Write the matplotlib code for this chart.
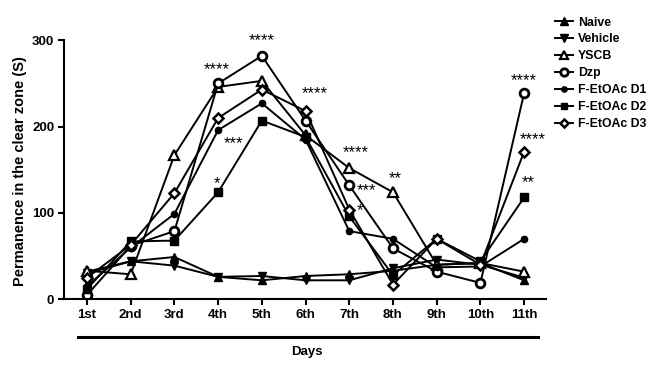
import matplotlib
matplotlib.use("Agg")
import matplotlib.pyplot as plt
from matplotlib.lines import Line2D

plt.rcParams['font.family'] = ['Liberation Sans', 'DejaVu Sans']
plt.rcParams['font.weight'] = 'bold'

days = ["1st", "2nd", "3rd", "4th", "5th", "6th", "7th", "8th", "9th", "10th", "11th"]
naive = [32, 44, 49, 26, 22, 27, 29, 33, 40, 42, 22]
vehicle = [30, 44, 39, 26, 27, 22, 22, 36, 46, 40, 25]
yscb = [33, 29, 167, 246, 253, 190, 152, 124, 40, 42, 32]
dzp = [5, 62, 79, 250, 282, 207, 132, 59, 32, 19, 239]
d1 = [15, 60, 99, 196, 227, 185, 79, 70, 37, 38, 70]
d2 = [12, 67, 68, 124, 207, 188, 96, 28, 70, 44, 118]
d3 = [25, 63, 123, 210, 243, 218, 104, 17, 70, 40, 171]

# significance labels: (day position, y value, text)
stars = [
    (3.97, 266, "****"),
    (5.0, 300, "****"),
    (4.35, 180, "***"),
    (3.97, 134, "*"),
    (6.2, 238, "****"),
    (7.15, 170, "****"),
    (7.4, 126, "***"),
    (7.25, 103, "*"),
    (8.05, 140, "**"),
    (10.98, 253, "****"),
    (11.2, 185, "****"),
    (11.1, 135, "**"),
]

fig = plt.figure(figsize=(6.69, 3.74), dpi=100)
ax = fig.add_axes([64/669, (374-299.3)/374, 482/669, 259/374])

x = list(range(1, len(days) + 1))
lw = 1.4
series = [
    ("Naive", naive, dict(marker='^', mfc='black', ms=6)),
    ("Vehicle", vehicle, dict(marker='v', mfc='black', ms=6)),
    ("YSCB", yscb, dict(marker='^', mfc='white', ms=6.5, mew=1.6)),
    ("Dzp", dzp, dict(marker='o', mfc='white', ms=6.3, mew=2.0)),
    ("F-EtOAc D1", d1, dict(marker='o', mfc='black', ms=4.5)),
    ("F-EtOAc D2", d2, dict(marker='s', mfc='black', ms=5.5)),
    ("F-EtOAc D3", d3, dict(marker='D', mfc='white', ms=5, mew=1.8)),
]
handles = []
for name, vals, kw in series:
    h, = ax.plot(x, vals, color='black', lw=lw, mec='black', label=name, **kw)
    handles.append(h)

for sx, sy, st in stars:
    ax.text(sx, sy, st, ha='center', va='center', fontsize=12, fontweight='normal')

ax.set_xlim(0.474, 11.5)
ax.set_ylim(0, 300)
ax.set_xticks(x)
ax.set_xticklabels(days)
ax.set_yticks([0, 100, 200, 300])
ax.spines['top'].set_visible(False)
ax.spines['right'].set_visible(False)
for s in ['left', 'bottom']:
    ax.spines[s].set_linewidth(1.5)
ax.tick_params(axis='both', direction='out', length=4, width=1.5, labelsize=9.5, pad=3)
for lab in ax.get_xticklabels() + ax.get_yticklabels():
    lab.set_fontweight('bold')

fig.text(20.5/669, (374-171)/374, "Permanence in the clear zone (S)", rotation=90,
         ha='center', va='center', fontsize=10.5, fontweight='bold')

fig.add_artist(Line2D([78/669, 538/669], [(374-337)/374, (374-337)/374], color='black', lw=2.2))
fig.text(307/669, (374-352)/374, "Days", ha='center', va='center', fontsize=9.5, fontweight='bold')

leg = fig.legend(handles=handles, loc='upper left', bbox_to_anchor=(555/669, (374-16.5)/374),
                 frameon=False, handlelength=1.45, handletextpad=0.42, labelspacing=0.4,
                 borderaxespad=0, borderpad=0, markerscale=0.85,
                 prop={'size': 8.8, 'weight': 'bold'})

fig.savefig("out.png", dpi=100)
